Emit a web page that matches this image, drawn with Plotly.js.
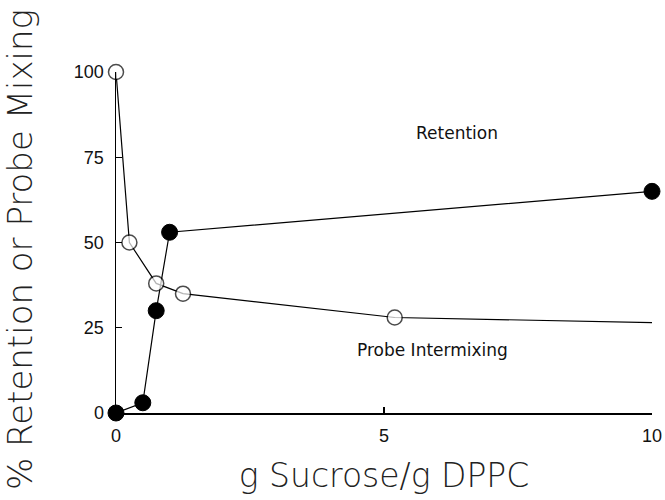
<!DOCTYPE html>
<html>
<head>
<meta charset="utf-8">
<script src="https://cdn.plot.ly/plotly-3.0.1.min.js"></script>
<style>html,body{margin:0;padding:0;background:#fff;}#chart{width:665px;height:500px;}</style>
</head>
<body>
<div id="chart"></div>
<script>
// Retention (filled circles)
var retentionX = [0, 0.5, 0.75, 1, 10];
var retentionY = [0, 3, 30, 53, 65];
// Probe intermixing (open circles); last point is the line end without a marker
var mixingX = [0, 0.25, 0.75, 1.25, 5.2, 10];
var mixingY = [100, 50, 38, 35, 28, 26.5];
var mixingMarked = [true, true, true, true, true, false];
var xTicks = [0, 5, 10];
var yTicks = [0, 25, 50, 75, 100];
var labelRetention = {x: 6.36, y: 82, text: "Retention"};
var labelMixing = {x: 5.9, y: 18.4, text: "Probe Intermixing"};
var xTitle = "g Sucrose/g DPPC";
var yTitle = "% Retention or Probe Mixing";

var traces = [
  {
    x: retentionX, y: retentionY, mode: "lines+markers", type: "scatter",
    cliponaxis: false,
    line: {color: "#000", width: 1.2},
    marker: {symbol: "circle", size: 16, color: "#000", line: {color: "#000", width: 1}}
  },
  {
    x: mixingX, y: mixingY, mode: "lines+markers", type: "scatter",
    cliponaxis: false,
    line: {color: "#000", width: 1.2},
    marker: {symbol: "circle", size: mixingMarked.map(function(m){return m ? 15 : 0;}),
             color: "#fff", line: {color: "#000", width: 1.5}}
  }
];

var tickFont = {family: "Liberation Sans, Arial, sans-serif", size: 18, color: "#111"};
var annFont = {family: "DejaVu Sans, sans-serif", size: 17, color: "#111"};

var layout = {
  width: 665, height: 500,
  margin: {l: 116, r: 13, t: 72, b: 87},
  paper_bgcolor: "#fff", plot_bgcolor: "#fff",
  showlegend: false,
  xaxis: {
    range: [0, 10], tickvals: xTicks, ticktext: xTicks.map(String),
    ticks: "inside", ticklen: 6, tickwidth: 1.2, tickcolor: "#000",
    ticklabelstandoff: 6,
    showline: true, linecolor: "#000", linewidth: 1.5,
    showgrid: false, zeroline: false, tickfont: tickFont,
    title: {text: xTitle,
            font: {family: "DejaVu Sans, sans-serif", size: 33, color: "#222", weight: 200},
            standoff: 19},
    automargin: false
  },
  yaxis: {
    range: [0, 100], tickvals: yTicks, ticktext: yTicks.map(String),
    ticks: "inside", ticklen: 6, tickwidth: 1.2, tickcolor: "#000",
    ticklabelstandoff: 7,
    showline: true, linecolor: "#000", linewidth: 1.5,
    showgrid: false, zeroline: false, tickfont: tickFont,
    automargin: false
  },
  annotations: [
    {x: labelRetention.x, y: labelRetention.y, xref: "x", yref: "y", text: labelRetention.text,
     showarrow: false, font: annFont},
    {x: labelMixing.x, y: labelMixing.y, xref: "x", yref: "y", text: labelMixing.text,
     showarrow: false, font: annFont},
    {x: -0.179, y: 0.478, xref: "paper", yref: "paper", text: yTitle, textangle: -90,
     showarrow: false, xanchor: "center", yanchor: "middle",
     font: {family: "DejaVu Sans, sans-serif", size: 34, color: "#222", weight: 200}}
  ]
};

Plotly.newPlot("chart", traces, layout, {staticPlot: true, displayModeBar: false});
</script>
</body>
</html>
